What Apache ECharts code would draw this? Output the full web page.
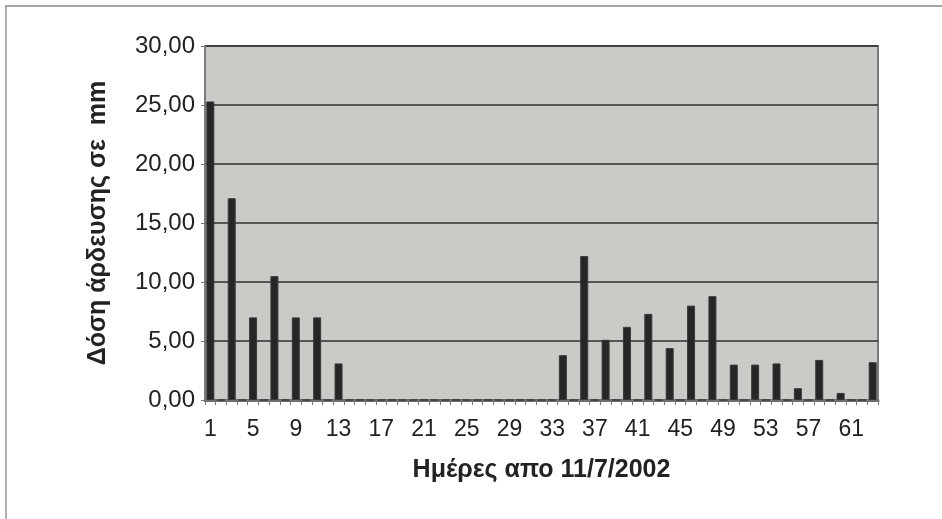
<!DOCTYPE html>
<html>
<head>
<meta charset="utf-8">
<script src="https://cdn.jsdelivr.net/npm/echarts@6/dist/echarts.min.js"></script>
<style>
html,body{margin:0;padding:0;background:#fff;}
#chart{width:942px;height:519px;}
</style>
</head>
<body>
<div id="chart"></div>
<script>
// Days since 11/7/2002 (1..63)
var days = [];
for (var d = 1; d <= 63; d++) days.push(String(d));
// Irrigation dose in mm per day (0 = no irrigation)
var dose = [
  25.3, 0, 17.1, 0, 7.0, 0, 10.5, 0, 7.0, 0,
  7.0, 0, 3.1, 0, 0, 0, 0, 0, 0, 0,
  0, 0, 0, 0, 0, 0, 0, 0, 0, 0,
  0, 0, 0, 3.8, 0, 12.2, 0, 5.1, 0, 6.2,
  0, 7.3, 0, 4.4, 0, 8.0, 0, 8.8, 0, 3.0,
  0, 3.0, 0, 3.1, 0, 1.0, 0, 3.4, 0, 0.6,
  0, 0, 3.2
];
var yTicks = [0, 5, 10, 15, 20, 25, 30];
var yTitle = 'Δόση άρδευσης σε  mm';
var xTitle = 'Ημέρες απο 11/7/2002';

var chart = echarts.init(document.getElementById('chart'), null, {renderer: 'canvas'});
var font = '"Liberation Sans", Arial, sans-serif';
chart.setOption({
  animation: false,
  backgroundColor: '#ffffff',
  grid: {left: 205, right: 64, top: 46, bottom: 119, show: true,
         backgroundColor: '#cacac7', borderColor: '#7a7a7a', borderWidth: 2},
  xAxis: {
    type: 'category', data: days, boundaryGap: true,
    axisLine: {show: true, lineStyle: {color: '#6e6e6e', width: 3}},
    axisTick: {show: true, interval: 0, length: 5, lineStyle: {color: '#777', width: 1}},
    axisLabel: {interval: 3, color: '#222', fontSize: 23, fontFamily: font, margin: 18},
    name: xTitle, nameLocation: 'middle', nameGap: 58,
    nameTextStyle: {fontSize: 25, fontWeight: 'bold', color: '#222', fontFamily: font}
  },
  yAxis: {
    type: 'value', min: yTicks[0], max: yTicks[yTicks.length - 1], interval: 5,
    axisLine: {show: true, lineStyle: {color: '#7a7a7a', width: 2}},
    axisTick: {show: true, length: 4, lineStyle: {color: '#777'}},
    axisLabel: {color: '#222', fontSize: 24, fontFamily: font, margin: 10,
      formatter: function (v) { return v.toFixed(2).replace('.', ','); }},
    splitLine: {show: true, lineStyle: {color: '#2e2e2e', width: 1.5}},
    name: yTitle, nameLocation: 'middle', nameGap: 94, nameRotate: 90,
    nameTextStyle: {fontSize: 25, fontWeight: 'bold', color: '#222', fontFamily: font}
  },
  series: [{
    type: 'bar', data: dose, barWidth: 8,
    itemStyle: {color: '#262626', borderColor: '#3a3a3a', borderWidth: 1}
  }],
  graphic: [
    {type: 'line', shape: {x1: 5, y1: 6, x2: 942, y2: 6}, style: {stroke: '#888', lineWidth: 1.5}},
    {type: 'line', shape: {x1: 6, y1: 6, x2: 6, y2: 519}, style: {stroke: '#999', lineWidth: 1.5}}
  ]
});
</script>
</body>
</html>
